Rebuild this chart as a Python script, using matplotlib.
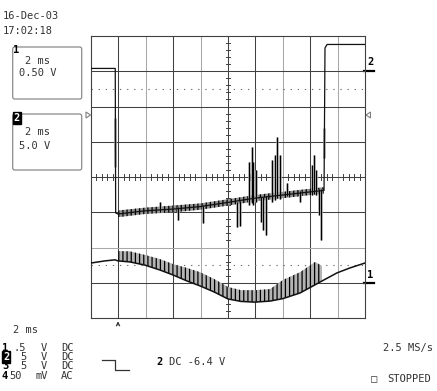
import matplotlib
matplotlib.use("Agg")
import matplotlib.pyplot as plt
from matplotlib.patches import FancyBboxPatch, Polygon

# time in ms (2 ms/div, 10 div), level in screen divisions (8 div, 0 = centre)
ch1_t = [0, 1.02, 1.75, 1.97, 2.85, 3.94, 5.04, 5.99, 7.01, 7.96, 8.98, 10.0,
         10.95, 11.97, 13.07, 14.01, 15.26, 16.35, 16.86, 17.96, 18.9, 20]
ch1_v = [-2.44, -2.38, -2.35, -2.38, -2.41, -2.50, -2.64, -2.78, -2.95, -3.09, -3.26, -3.46,
         -3.53, -3.55, -3.52, -3.45, -3.29, -3.06, -2.95, -2.72, -2.58, -2.44]

# ripple band on channel 1 (spike tops / base line)
ch1_band_t = [1.97, 2.85, 3.94, 5.04, 5.99, 7.01, 7.96, 8.98, 10.0, 10.95, 11.97,
              13.07, 14.01, 15.26, 16.35, 16.86]
ch1_band_top = [-2.10, -2.11, -2.21, -2.33, -2.47, -2.58, -2.70, -2.89, -3.12, -3.21, -3.21,
                -3.18, -2.92, -2.70, -2.41, -2.52]
ch1_band_bot = [-2.38, -2.41, -2.50, -2.64, -2.78, -2.95, -3.09, -3.26, -3.46, -3.53, -3.55,
                -3.52, -3.45, -3.29, -3.06, -2.95]

ch2_t = [0, 1.77, 1.80, 1.97, 3.94, 5.99, 7.96, 10.0, 11.97, 14.01, 16.06, 17.01, 17.08, 17.23, 20]
ch2_v = [3.08, 3.08, -1.02, -1.05, -0.96, -0.91, -0.84, -0.72, -0.60, -0.51, -0.42, -0.38,
         3.66, 3.76, 3.76]

ch2_band_t = [1.97, 3.94, 5.99, 7.96, 10.0, 11.97, 14.01, 16.06, 17.01]
ch2_band_hi = [-0.95, -0.87, -0.81, -0.75, -0.63, -0.51, -0.42, -0.33, -0.29]
ch2_band_lo = [-1.14, -1.05, -1.00, -0.93, -0.81, -0.69, -0.60, -0.51, -0.47]

# glitches on channel 2
ch2_spike_t = [1.78, 5.04, 6.35, 8.18, 10.66, 10.88, 11.53, 11.73, 11.86, 12.04, 12.41, 12.55,
               12.77, 13.21, 13.43, 13.58, 13.76, 14.31, 15.26, 16.13, 16.28, 16.42, 16.64,
               16.79, 17.01]
ch2_spike_lo = [0.28, -0.99, -1.22, -1.30, -1.41, -1.39, -0.80, -0.75, -0.80, -0.70, -1.28, -1.50,
                -1.65, -0.70, -0.65, -0.60, -0.62, -0.55, -0.71, -0.50, -0.48, -0.50, -1.08,
                -1.79, 0.54]
ch2_spike_hi = [1.67, -0.70, -0.85, -0.80, -0.70, -0.68, 0.43, 0.85, 0.43, 0.20, -0.58, -0.58,
                -0.55, 0.48, 0.62, 1.13, 0.62, -0.17, -0.40, 0.34, 0.62, 0.20, -0.35,
                -0.35, 1.39]

plt.rcParams['hatch.linewidth'] = 0.9
plt.rcParams['hatch.color'] = 'black'

W, H = 437, 391
fig = plt.figure(figsize=(W / 100, H / 100), dpi=100)
fig.patch.set_facecolor('white')

# pixel overlay for the screen texts
bg = fig.add_axes([0, 0, 1, 1])
bg.set_xlim(0, W)
bg.set_ylim(H, 0)
bg.axis('off')

ax = fig.add_axes([91 / W, (H - 318) / H, 274 / W, 282 / H])
ax.set_xlim(0, 20)
ax.set_ylim(-4, 4)
ax.set_xticks([])
ax.set_yticks([])
ax.set_facecolor('none')
dark, light = '#404040', '#a8a8a8'
for s in ax.spines.values():
    s.set_color(dark)
    s.set_linewidth(0.8)

for i in range(1, 10):
    ax.axvline(2 * i, color=light if i in (2, 4, 7, 9) else dark, lw=0.75, zorder=1)
for j in range(-3, 4):
    ax.axhline(j, color=light if j == -2 else dark, lw=0.75, zorder=1)
for lvl in (2.5, -2.5):
    ax.axhline(lvl, color='#707070', lw=0.8, ls=(0, (1.2, 5.2)), zorder=1)

# small ticks on centre cross
for k in range(-20, 21):
    if k % 5:
        ax.plot([9.85, 10.15], [k * 0.2, k * 0.2], color=dark, lw=0.7, zorder=1)
for k in range(1, 50):
    if k % 5:
        ax.plot([k * 0.4, k * 0.4], [-0.085, 0.085], color=dark, lw=0.7, zorder=1)

# channel 1
ax.fill_between(ch1_band_t, ch1_band_bot, ch1_band_top, facecolor='#b4b4b4',
                edgecolor='black', hatch='||||', linewidth=0, zorder=2)
ax.plot(ch1_t, ch1_v, color='#111111', lw=1.1, zorder=3)

# channel 2
ax.fill_between(ch2_band_t, ch2_band_lo, ch2_band_hi, facecolor='#909090',
                edgecolor='black', hatch='||||', linewidth=0, zorder=2)
ax.vlines(ch2_spike_t, ch2_spike_lo, ch2_spike_hi, color='#a8a8a8', lw=1.8, zorder=2)
ax.vlines(ch2_spike_t, ch2_spike_lo, ch2_spike_hi, color='black', lw=0.8, zorder=3)
ax.plot(ch2_t, ch2_v, color='#111111', lw=0.9, zorder=3)

mono = 'DejaVu Sans Mono'
tc = '#333333'


def label(x, y, s, **kw):
    kw.setdefault('color', tc)
    bg.text(x, y, s, fontsize=7.5, family=mono, va='center', ha='left', **kw)


label(3, 16, '16-Dec-03')
label(3, 31, '17:02:18')

for top, h in ((47, 52), (114, 56)):
    bg.add_patch(FancyBboxPatch((12.7, top), 69, h, boxstyle='round,pad=0,rounding_size=2',
                                ec='#8a8a8a', fc='white', lw=0.9))
label(12.5, 50, '1', fontweight='bold', color='black')
label(25, 61, '2 ms')
label(19, 73, '0.50 V')
label(13.5, 118, '2', fontweight='bold', color='white',
      bbox=dict(boxstyle='square,pad=0.08', fc='black', ec='black'))
label(25, 132, '2 ms')
label(19, 146, '5.0 V')

# trace markers
bg.add_patch(Polygon([(86, 112), (90.5, 115), (86, 118)], closed=True, fill=False,
                     ec='#808080', lw=0.8))
bg.add_patch(Polygon([(370.5, 112), (366, 115), (370.5, 118)], closed=True, fill=False,
                     ec='#808080', lw=0.8))
label(367, 62, '2', fontweight='bold', color='black')
bg.plot([364, 374], [70.5, 70.5], color='black', lw=1.6)
label(367, 275, '1', fontweight='bold', color='black')
bg.plot([364, 374], [283, 283], color='black', lw=1.6)
bg.annotate('', xy=(118, 318.5), xytext=(118, 328),
            arrowprops=dict(arrowstyle='->', lw=0.8, color='#333333', mutation_scale=6))

# bottom status lines
label(13, 330, '2 ms')
rows = [('1', '.5', 'V', 'DC', 348), ('2', '5', 'V', 'DC', 357),
        ('3', '5', 'V', 'DC', 366), ('4', '50', 'mV', 'AC', 376)]
for num, val, unit, cpl, y in rows:
    if num == '2':
        label(3, y, num, fontweight='bold', color='white',
              bbox=dict(boxstyle='square,pad=0.08', fc='black', ec='black'))
    else:
        label(2, y, num, fontweight='bold', color='black')
    label(20 if len(val) == 1 else (13 if val == '.5' else 9.5), y, val)
    label(41 if unit == 'V' else 36, y, unit)
    label(61, y, cpl)

bg.plot([102, 115, 115, 129], [359.5, 359.5, 369.5, 369.5], color='#333333', lw=0.9)
label(156, 362, '2', fontweight='bold', color='black')
label(169, 362, 'DC -6.4 V')
label(383, 348, '2.5 MS/s')
label(371, 379, '\u25a1')
label(387, 379, 'STOPPED')

fig.savefig('out.png', dpi=100, facecolor='white')
